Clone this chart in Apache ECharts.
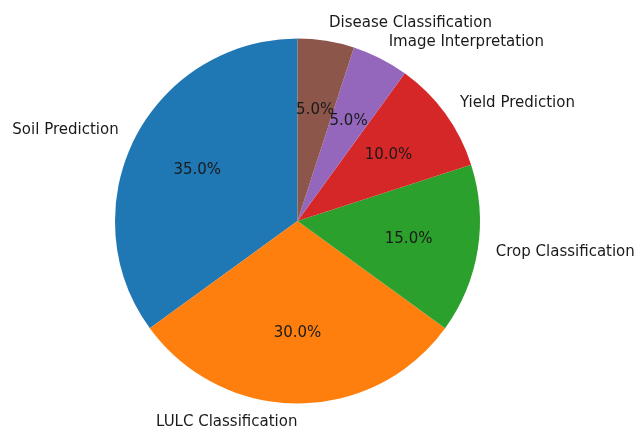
<!DOCTYPE html>
<html>
<head>
<meta charset="utf-8">
<script src="https://cdn.jsdelivr.net/npm/echarts@6/dist/echarts.min.js"></script>
<style>html,body{margin:0;padding:0;background:#fff;}#c{width:638px;height:428px;}</style>
</head>
<body>
<div id="c"></div>
<script>
const categories = ['Soil Prediction','LULC Classification','Crop Classification','Yield Prediction','Image Interpretation','Disease Classification'];
const values = [35, 30, 15, 10, 5, 5];
const colors = ['#1f77b4','#ff7f0e','#2ca02c','#d62728','#9467bd','#8c564b'];

const R = 182.5;
const cx = 297.5, cy = 221;
const font = 'DejaVu Sans';
const data = categories.map((n,i)=>({name:n,value:values[i]}));

const chart = echarts.init(document.getElementById('c'), null, {renderer:'canvas'});
chart.setOption({
  animation:false,
  color: colors,
  series:[
    {
      type:'pie',
      center:[cx,cy],
      radius:[0,R],
      startAngle:89.99,
      clockwise:false,
      avoidLabelOverlap:false,
      silent:true,
      data:data,
      itemStyle:{borderWidth:0},
      labelLayout:{hideOverlap:false},
      label:{
        show:true,
        position:'outside',
        formatter:'{b}',
        fontFamily:font,
        fontSize:15,
        color:'#1a1a1a',
        distanceToLabelLine:0
      },
      labelLine:{show:false,length:0.1*R,length2:0}
    },
    {
      type:'pie',
      center:[cx,cy],
      radius:[0,1.2*R],
      startAngle:89.99,
      clockwise:false,
      avoidLabelOverlap:false,
      silent:true,
      data:data,
      itemStyle:{color:'rgba(0,0,0,0)',borderWidth:0},
      labelLayout:{hideOverlap:false},
      label:{
        show:true,
        position:'inside',
        formatter:p=>p.percent.toFixed(1)+'%',
        fontFamily:font,
        fontSize:15,
        color:'#1a1a1a'
      },
      labelLine:{show:false}
    }
  ]
});
</script>
</body>
</html>
